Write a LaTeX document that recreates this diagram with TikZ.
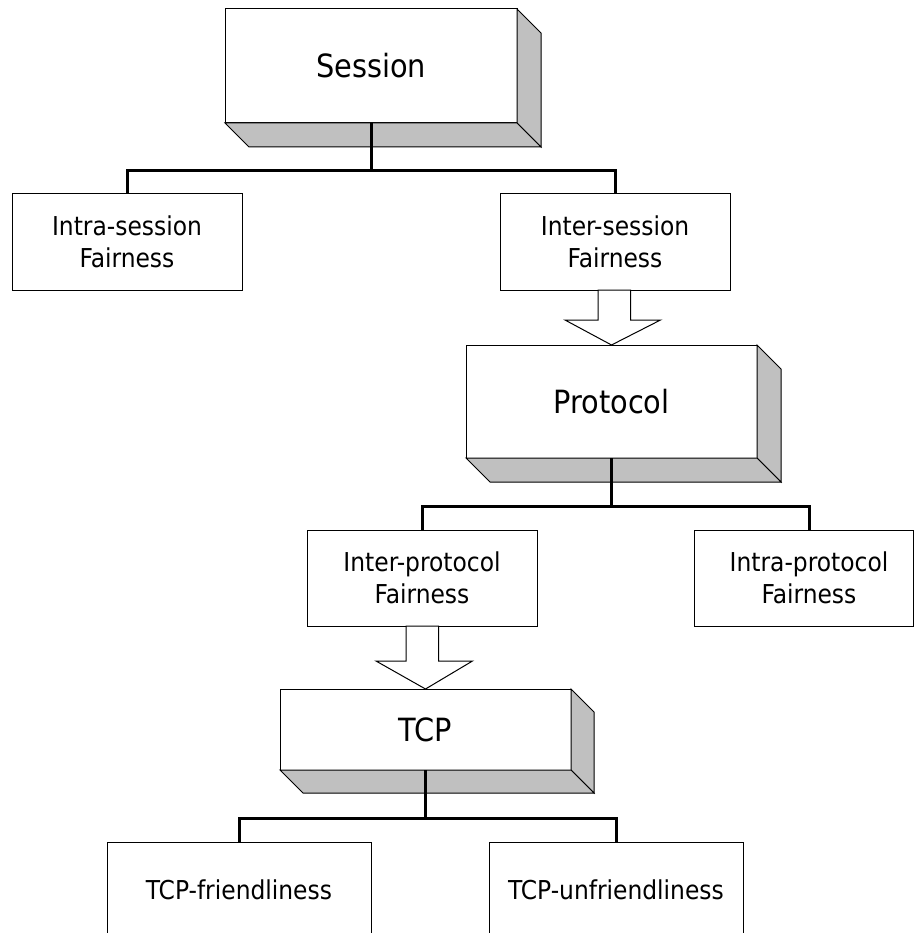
\documentclass[tikz,border=0pt]{standalone}
\usepackage{fontspec}
\setmainfont{DejaVu Sans Condensed}
\definecolor{facegray}{RGB}{192,192,192}
% right and bottom faces that give a front box its depth
\newcommand\slabfaces[2]{%
  \filldraw[face] (#1.north east) -- ([shift={(#2,#2)}]#1.north east)
    -- ([shift={(#2,#2)}]#1.south east) -- (#1.south east) -- cycle;
  \filldraw[face] (#1.south west) -- ([shift={(#2,#2)}]#1.south west)
    -- ([shift={(#2,#2)}]#1.south east) -- (#1.south east) -- cycle;
}
\begin{document}
\begin{tikzpicture}[x=1pt,y=-1pt,
  box/.style={draw=black, line width=1pt, fill=white, inner sep=0pt,
    outer sep=0pt, align=center, font=\fontsize{26}{32}\selectfont},
  bigbox/.style={box, font=\fontsize{32}{38}\selectfont},
  face/.style={draw=black, line width=1pt, fill=facegray},
  conn/.style={draw=black, line width=3pt},
  hollow/.style={draw=black, line width=1pt, fill=white}]
\useasboundingbox (0,0) rectangle (914,933);
\clip (0,0) rectangle (914,933);

% session level
\node[bigbox, minimum width=292, minimum height=114] (session) at (371,66) {Session};
\slabfaces{session}{24}
\node[box, minimum width=230, minimum height=96] (intras) at (127,242) {Intra-session\\Fairness};
\node[box, minimum width=230, minimum height=96] (inters) at (615,242) {Inter-session\\Fairness};

% protocol level
\node[bigbox, minimum width=291, minimum height=113] (protocol) at (611.5,401.5) {Protocol};
\slabfaces{protocol}{24}
\node[box, minimum width=230, minimum height=96] (interp) at (422,578) {Inter-protocol\\Fairness};
\node[box, minimum width=219, minimum height=96] (intrapframe) at (803.5,578) {};
\node[box, draw=none, fill=none] (intraptext) at (809,578) {Intra-protocol\\Fairness};

% TCP level
\node[bigbox, minimum width=291, minimum height=81] (tcp) at (425.5,729.5) {TCP};
\slabfaces{tcp}{23}
\node[box, minimum width=264, minimum height=96] (friendly) at (239,890) {TCP-friendliness};
\node[box, minimum width=254, minimum height=96] (unfriendly) at (616,890) {TCP-unfriendliness};

% tree connectors
\draw[conn] (session.south) -- ++(0,48) coordinate (sj);
\draw[conn] (intras.north) |- (sj) -| (inters.north);
\draw[conn] (protocol.south) -- ++(0,48) coordinate (pj);
\draw[conn] (interp.north) |- (pj) -| (intrapframe.north -| intraptext.center);
\draw[conn] (tcp.south) -- ++(0,48) coordinate (tj);
\draw[conn] (friendly.north) |- (tj) -| (unfriendly.north);

% hollow block arrows between levels
\draw[hollow] ([xshift=-17]inters.south) -- ++(0,30) -- ++(-33,0)
  -- (protocol.north) -- ++(49,-25) -- ++(-30,0) |- ([xshift=16]inters.south) -- cycle;
\draw[hollow] ([xshift=-16]interp.south) -- ++(0,35) -- ++(-30,0)
  -- (tcp.north) -- ++(47,-28) -- ++(-34,0) |- ([xshift=16]interp.south) -- cycle;
\end{tikzpicture}
\end{document}
